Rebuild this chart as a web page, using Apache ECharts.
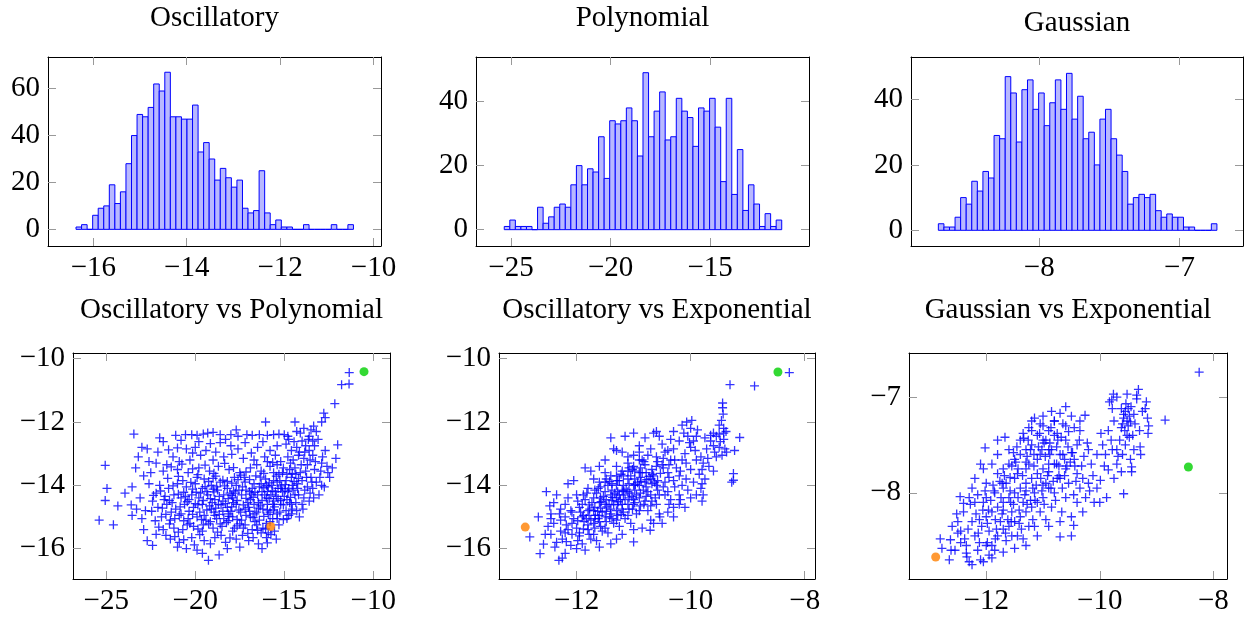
<!DOCTYPE html>
<html>
<head>
<meta charset="utf-8">
<script src="https://cdn.jsdelivr.net/npm/echarts@6/dist/echarts.min.js"></script>
<style>
html, body { margin: 0; padding: 0; background: #fff; }
#chart { width: 1249px; height: 617px; }
</style>
</head>
<body>
<div id="chart"></div>
<script>
// histogram counts, 50 bins each
const oscRange = [-16.37, -10.43];
const oscCounts = [1,2,0,6,9,10,19,11,16,28,40,49,48,52,62,59,67,48,48,47,
  47,53,33,37,30,21,26,22,18,21,9,7,8,25,7,2,4,1,1,0,
  0,2,0,0,0,0,2,0,0,2];
const polyRange = [-25.34, -11.40];
const polyCounts = [1,3,1,1,1,0,7,2,4,7,8,7,14,20,14,19,18,29,16,34,
  33,34,38,34,23,49,29,37,43,28,29,41,37,35,26,38,37,41,32,15,
  41,11,25,6,14,8,1,5,1,3];
const gaussRange = [-8.719, -6.733];
const gaussCounts = [2,1,1,4,10,8,15,12,18,16,29,28,47,42,27,43,46,37,42,32,
  39,46,37,48,34,41,28,30,20,34,37,28,23,18,8,10,11,10,11,6,
  4,5,4,4,1,1,0,0,0,2];

// scatter samples [x, y]
const oscVsPoly = [
  [-11.35,-10.44],[-11.78,-10.82],[-11.36,-10.8],[-12.16,-11.42],[-12.78,-11.72],[-12.7,-11.86],[-12.9,-12.0],[-13.35,-12.13],
  [-13.5,-12.25],[-13.2,-12.3],[-13.6,-12.45],[-13.1,-12.55],[-13.4,-12.6],[-12.0,-12.72],[-12.1,-13.15],[-12.7,-12.9],
  [-12.9,-13.3],[-12.6,-13.4],[-12.95,-13.55],[-12.3,-13.45],
  [-23.45,-12.38],[-22.0,-12.5],[-21.1,-12.42],[-20.55,-12.4],[-20.2,-12.4],[-19.9,-12.42],[-19.55,-12.38],[-19.3,-12.35],
  [-19.0,-12.33],[-18.6,-12.4],[-18.0,-12.4],[-17.7,-12.25],[-17.6,-12.45],[-17.1,-12.4],[-16.8,-12.42],[-16.4,-12.4],
  [-16.05,-12.0],[-15.95,-12.42],[-15.6,-12.4],[-15.3,-12.38],[-15.0,-12.4],[-14.4,-12.0],[-14.3,-12.3],[-13.9,-12.2],
  [-22.7,-12.85],[-22.1,-12.95],[-21.5,-12.88],[-21.0,-12.82],[-20.5,-12.85],[-20.0,-12.8],[-19.4,-12.9],[-18.6,-12.65],
  [-18.0,-12.75],[-17.6,-12.85],[-16.5,-12.8],[-15.8,-12.9],[-22.2,-13.3],[-21.6,-13.35],[-20.9,-13.25],[-20.3,-13.2],
  [-19.7,-13.05],[-19.0,-13.2],[-18.4,-13.1],[-17.3,-13.15],[-16.7,-13.2],[-16.1,-13.1],[-15.5,-13.05],[-15.2,-13.25],
  [-25.4,-15.1],[-25.06,-13.37],[-24.96,-14.1],[-25.06,-14.48],[-24.6,-15.25],[-24.35,-14.65],[-23.95,-14.25],[-23.55,-14.05],
  [-23.6,-14.62],[-23.55,-14.95],[-23.2,-13.1],[-23.35,-13.45],[-23.1,-14.4],[-23.0,-15.05],[-22.8,-14.8],[-22.6,-13.95],
  [-22.4,-14.5],[-22.7,-15.75],[-22.4,-15.9],[-22.5,-13.6],[-22.2,-14.25],
  [-14.9,-12.7],[-14.6,-12.9],[-14.3,-12.8],[-14.0,-12.6],[-13.8,-12.75],[-13.6,-12.9],[-14.8,-13.1],[-14.5,-13.2],
  [-14.2,-13.05],[-13.9,-13.15],[-13.7,-13.35],[-13.4,-13.05],[-14.7,-13.5],[-14.4,-13.45],[-14.1,-13.6],[-13.8,-13.55],
  [-13.5,-13.75],[-13.3,-13.5],[-15.1,-13.6],[-14.9,-13.85],[-14.6,-13.75],[-14.3,-13.95],[-14.0,-13.85],[-13.7,-14.05],
  [-13.4,-14.1],[-13.2,-13.9],[-12.9,-14.0],[-13.0,-13.75],[-15.2,-14.1],[-14.8,-14.2],[-14.5,-14.15],[-14.2,-14.3],
  [-13.9,-14.4],[-13.6,-14.5],[-15.4,-13.35],[-14.1,-12.35],[-13.3,-12.75],[-15.6,-13.6],[-15.4,-13.9],[-13.95,-14.75],
  [-14.15,-15.0],[-14.0,-14.6],
  [-21.8,-13.55],[-21.0,-13.5],[-20.4,-13.6],[-19.8,-13.45],[-19.2,-13.55],[-18.7,-13.4],[-18.1,-13.5],[-17.5,-13.6],
  [-16.9,-13.45],[-16.3,-13.55],[-15.8,-13.4],[-16.6,-13.7],[-17.8,-13.75],[-19.5,-13.8],[-20.7,-13.85],
  [-22.0,-14.0],[-21.5,-14.1],[-21.0,-13.95],[-20.5,-14.05],[-20.0,-13.95],[-19.6,-14.1],[-19.1,-14.0],[-18.6,-13.9],
  [-18.2,-14.1],[-17.7,-14.0],[-17.2,-13.9],[-16.8,-14.1],[-16.3,-13.95],[-15.9,-14.05],[-15.5,-14.2],[-15.0,-14.35],
  [-21.7,-14.35],[-21.2,-14.3],[-20.8,-14.4],[-20.2,-14.3],[-19.8,-14.4],[-19.3,-14.3],[-18.9,-14.45],[-18.4,-14.3],
  [-17.9,-14.4],[-17.4,-14.3],[-16.9,-14.45],[-16.5,-14.3],[-16.0,-14.4],[-15.6,-14.5],[-15.2,-14.6],[-14.7,-14.55],
  [-22.1,-14.7],[-21.6,-14.6],[-21.1,-14.75],[-20.6,-14.6],[-20.1,-14.7],[-19.6,-14.6],[-19.1,-14.75],[-18.7,-14.6],
  [-18.2,-14.7],[-17.7,-14.6],[-17.2,-14.75],[-16.7,-14.6],[-16.2,-14.75],[-15.8,-14.85],[-15.4,-14.9],[-14.9,-14.8],
  [-21.9,-15.0],[-21.4,-15.1],[-20.9,-14.95],[-20.4,-15.05],[-19.9,-15.0],[-19.4,-15.1],[-18.9,-14.95],[-18.4,-15.05],
  [-17.9,-15.0],[-17.4,-15.1],[-16.9,-15.0],[-16.4,-15.1],[-16.0,-15.2],[-15.3,-15.25],[-14.6,-14.9],
  [-21.8,-15.4],[-21.2,-15.35],[-20.7,-15.4],[-20.1,-15.3],[-19.6,-15.45],[-19.0,-15.35],[-18.5,-15.3],[-17.9,-15.45],
  [-17.3,-15.35],[-16.8,-15.4],[-16.3,-15.5],
  [-21.4,-15.7],[-20.9,-15.8],[-20.2,-15.65],[-19.5,-15.75],[-18.9,-15.65],[-18.3,-15.8],[-17.7,-15.7],[-17.0,-15.75],
  [-16.0,-15.65],[-15.45,-15.7],
  [-19.9,-16.05],[-19.6,-16.15],[-19.26,-16.37],[-18.66,-16.2],[-18.2,-16.0],[-17.5,-15.95],[-16.25,-16.0],[-21.0,-15.95],
  [-20.5,-16.0],
  [-19.35,-14.2],[-18.75,-14.15],[-18.05,-14.25],[-17.55,-14.15],[-16.95,-14.2],[-16.25,-14.2],[-15.75,-14.3],[-19.05,-14.55],
  [-18.45,-14.5],[-17.85,-14.55],[-17.05,-14.55],[-16.45,-14.55],[-15.95,-14.6],[-19.75,-14.85],[-18.95,-14.85],[-18.15,-14.9],
  [-17.45,-14.85],[-16.65,-14.9],[-15.65,-14.6],[-20.35,-14.45],[-17.25,-13.75],[-16.05,-13.8],[-15.25,-13.85],[-15.7,-14.0],
  [-21.35,-13.42],[-20.75,-13.33],[-20.15,-13.48],[-19.45,-13.36],[-18.95,-13.62],[-18.35,-13.31],[-17.85,-13.44],[-17.15,-13.58],
  [-16.55,-13.35],[-16.15,-13.62],[-15.65,-13.28],[-15.05,-13.45],[-14.55,-13.62],
  [-21.55,-13.78],[-20.95,-13.72],[-20.25,-13.91],[-19.85,-13.66],[-19.25,-13.88],[-18.85,-13.71],[-18.45,-13.84],[-17.95,-13.93],
  [-17.45,-13.68],[-16.95,-13.82],[-16.35,-13.74],[-15.85,-13.92],[-15.45,-13.71],[-14.95,-13.98],[-14.45,-13.88],
  [-21.95,-14.18],[-21.25,-14.02],[-20.65,-14.22],[-20.15,-14.12],[-19.45,-14.04],[-18.95,-14.21],[-18.35,-14.02],[-17.85,-14.18],
  [-17.35,-14.05],[-16.65,-14.22],[-16.15,-14.08],[-15.65,-14.18],[-15.15,-14.02],[-14.65,-14.38],
  [-22.35,-14.32],[-21.45,-14.48],[-20.95,-14.28],[-20.45,-14.52],[-19.95,-14.22],[-19.55,-14.48],[-19.15,-14.42],[-18.65,-14.35],
  [-18.15,-14.42],[-17.65,-14.48],[-17.15,-14.41],[-16.75,-14.38],[-16.25,-14.48],[-15.85,-14.42],[-15.35,-14.42],[-14.85,-14.45],
  [-22.45,-14.82],[-21.85,-14.72],[-21.35,-14.85],[-20.85,-14.68],[-20.35,-14.82],[-19.85,-14.62],[-19.35,-14.78],[-18.85,-14.72],
  [-18.45,-14.82],[-17.95,-14.68],[-17.55,-14.78],[-16.95,-14.82],[-16.45,-14.72],[-15.95,-14.78],[-15.55,-14.68],[-15.05,-14.62],
  [-22.25,-15.12],[-21.65,-14.92],[-21.15,-15.05],[-20.65,-15.12],[-20.15,-14.92],[-19.65,-15.08],[-19.15,-15.15],[-18.65,-14.92],
  [-18.15,-15.12],[-17.65,-15.08],[-17.15,-14.95],[-16.65,-15.15],[-16.15,-14.98],[-15.65,-15.05],[-15.05,-15.08],
  [-22.05,-15.32],[-21.45,-15.22],[-20.95,-15.48],[-20.45,-15.25],[-19.85,-15.38],[-19.25,-15.22],[-18.75,-15.48],[-18.25,-15.18],
  [-17.65,-15.28],[-17.05,-15.52],[-16.55,-15.25],[-16.05,-15.38],[-15.55,-15.45],[-15.95,-15.82],
  [-21.65,-15.58],[-21.15,-15.62],[-20.65,-15.72],[-20.05,-15.88],[-19.75,-15.56],[-19.15,-15.85],[-18.55,-15.58],[-18.05,-15.66],
  [-17.35,-15.58],[-16.75,-15.65],[-16.45,-15.85],[-15.75,-15.56],
  [-21.8,-12.62],[-20.8,-12.58],[-19.8,-12.62],[-19.15,-12.68],[-18.3,-12.55],[-17.2,-12.65],[-16.2,-12.62],[-15.4,-12.75],
  [-14.8,-12.45],[-20.15,-12.98],[-18.85,-12.95],[-17.95,-13.02],[-16.85,-12.98],[-15.95,-13.25],[-21.25,-13.1],[-22.6,-13.25],
  [-23.0,-12.8],[-22.9,-13.7],[-23.3,-14.75],[-22.9,-15.4],[-22.2,-15.55],
  [-14.75,-12.55],[-14.45,-12.62],[-14.15,-12.95],[-13.85,-12.95],[-13.55,-13.2],[-14.65,-13.3],[-14.35,-13.65],[-14.05,-13.35],
  [-13.75,-13.75],[-13.45,-13.9],[-14.55,-14.0],[-14.25,-14.1],[-13.85,-14.15],[-13.55,-14.25],[-14.35,-14.55],[-14.55,-14.75],
  [-14.85,-15.05],[-15.25,-14.85],[-13.65,-12.55],[-13.25,-13.25],[-12.85,-13.1],[-12.55,-13.6],[-12.75,-14.05],[-12.45,-13.75],
  [-13.05,-14.3],[-13.35,-14.4],
  [-19.7,-14.25],[-19.0,-14.12],[-18.55,-14.62],[-18.0,-14.82],[-17.3,-14.62],[-16.85,-14.28],[-16.35,-14.65],[-15.9,-14.92],
  [-15.45,-14.35],[-15.1,-14.2],[-19.2,-14.65],[-18.3,-14.58],[-17.75,-14.25],[-17.0,-14.7],[-16.55,-14.85],[-16.1,-14.3],
  [-15.6,-14.78],[-15.2,-14.48],[-14.75,-14.1],[-14.4,-14.3],[-20.55,-14.35],[-20.0,-14.58],[-19.5,-14.95],[-18.8,-15.05],
  [-18.1,-14.98],[-17.5,-15.22],[-16.75,-15.02],[-16.2,-15.35],[-15.8,-15.15],[-15.4,-15.05],[-20.8,-14.9],[-21.3,-14.55],
  [-21.75,-14.45],[-20.3,-15.2],[-19.55,-15.25],[-18.6,-15.22],[-17.8,-15.35],[-17.2,-15.25],[-16.5,-15.42],[-15.9,-15.5],
  [-19.9,-13.75],[-19.0,-13.78],[-18.2,-13.88],[-17.6,-13.82],[-16.7,-13.95],[-16.0,-14.0],[-15.6,-13.85],[-15.3,-13.65],
  [-14.85,-13.65],[-14.2,-13.78],[-18.8,-14.05],[-17.95,-14.32],[-17.15,-14.15],[-16.4,-14.05],[-15.95,-14.2],[-15.35,-14.1],
  [-14.95,-14.15],[-14.6,-14.6],[-14.3,-14.8],[-14.75,-14.95]
];

const oscVsExp = [
  [-8.27,-10.44],[-9.31,-10.82],[-8.88,-10.86],[-9.44,-11.4],[-9.44,-11.55],[-9.43,-11.75],[-9.46,-11.95],[-9.5,-12.1],
  [-9.42,-12.2],[-9.14,-12.49],[-9.23,-12.9],[-9.25,-13.63],[-9.25,-13.84],[-9.28,-13.9],
  [-9.6,-12.35],[-9.5,-12.38],[-9.42,-12.35],[-9.38,-12.3],[-9.55,-12.45],[-9.65,-12.6],[-9.6,-12.75],[-9.5,-12.8],
  [-9.4,-12.85],[-9.37,-12.95],[-9.45,-13.05],[-9.55,-13.1],[-9.7,-13.15],[-9.75,-12.5],
  [-9.82,-13.1],[-9.78,-13.3],[-9.8,-13.5],[-9.85,-13.65],[-9.75,-13.8],[-9.8,-13.95],[-9.82,-14.1],[-9.78,-14.3],
  [-9.8,-14.5],[-9.68,-13.4],[-9.6,-13.55],[-9.9,-13.2],[-10.0,-13.5],
  [-10.07,-12.0],[-9.98,-11.95],[-10.0,-12.2],[-10.05,-12.45],[-9.95,-12.6],[-10.0,-12.8],[-10.1,-13.0],[-9.9,-12.45],
  [-10.2,-12.6],[-10.3,-12.3],[-10.35,-12.55],
  [-10.6,-12.3],[-10.5,-12.7],[-10.4,-12.9],[-10.7,-12.85],[-10.6,-13.1],[-10.35,-13.2],[-10.5,-13.35],[-10.25,-13.45],
  [-10.15,-13.2],[-10.8,-12.5],[-10.9,-12.75],[-11.0,-12.35],[-11.15,-12.45],[-11.4,-12.5],[-11.35,-12.85],[-11.2,-12.95],
  [-11.0,-13.05],[-10.85,-13.2],
  [-12.4,-15.2],[-12.45,-15.55],[-12.35,-15.8],[-12.3,-14.9],
  [-12.2,-15.0],[-12.15,-15.4],[-12.25,-15.7],[-12.2,-14.6],[-12.1,-15.9],[-12.0,-16.0],
  [-12.0,-14.3],[-11.95,-14.7],[-12.05,-15.05],[-12.0,-15.35],[-11.95,-15.6],[-11.9,-15.85],
  [-11.8,-14.1],[-11.85,-14.45],[-11.8,-14.8],[-11.75,-15.1],[-11.8,-15.4],[-11.75,-15.7],[-11.7,-13.8],
  [-11.6,-13.9],[-11.65,-14.25],[-11.6,-14.55],[-11.55,-14.85],[-11.6,-15.15],[-11.55,-15.45],[-11.65,-15.75],[-11.5,-13.6],
  [-11.4,-13.7],[-11.45,-14.0],[-11.4,-14.3],[-11.35,-14.6],[-11.4,-14.9],[-11.35,-15.2],[-11.45,-15.5],[-11.3,-13.4],[-11.3,-15.7],
  [-11.2,-13.55],[-11.25,-13.85],[-11.2,-14.15],[-11.15,-14.45],[-11.2,-14.75],[-11.15,-15.05],[-11.25,-15.3],[-11.1,-13.3],
  [-11.0,-13.4],[-11.05,-13.7],[-11.0,-14.0],[-10.95,-14.3],[-11.0,-14.6],[-10.95,-14.9],[-11.05,-15.2],[-10.9,-13.2],
  [-10.8,-13.35],[-10.85,-13.6],[-10.8,-13.9],[-10.75,-14.2],[-10.8,-14.5],[-10.75,-14.8],[-10.7,-15.1],
  [-10.6,-13.4],[-10.65,-13.7],[-10.6,-14.0],[-10.55,-14.3],[-10.6,-14.6],[-10.55,-14.9],
  [-10.4,-13.6],[-10.45,-13.9],[-10.4,-14.2],[-10.35,-14.45],[-10.3,-14.7],[-10.4,-14.85],
  [-10.2,-13.7],[-10.15,-14.0],[-10.2,-14.3],[-10.3,-13.85],
  [-11.9,-14.6],[-11.7,-14.4],[-11.5,-14.2],[-11.3,-14.0],[-11.1,-13.8],[-10.9,-13.6],[-11.9,-15.0],[-11.7,-14.8],
  [-11.5,-14.6],[-11.3,-14.4],[-11.1,-14.2],[-10.9,-14.0],[-10.7,-13.8],[-11.7,-15.2],[-11.5,-15.0],[-11.3,-14.8],
  [-11.1,-14.6],[-10.9,-14.4],[-10.7,-14.3],[-11.5,-13.9],[-11.3,-13.7],[-11.1,-13.55],[-11.0,-14.45],[-11.2,-14.6],
  [-11.4,-14.75],[-11.6,-14.95],[-11.8,-15.25],[-11.25,-14.3],
  [-12.64,-16.16],[-12.31,-16.37],[-12.25,-16.3],[-12.82,-15.63],[-12.67,-15.0],[-12.53,-14.2],[-12.47,-14.65],[-12.58,-15.86],
  [-12.55,-15.55],[-12.5,-15.3],[-12.4,-14.55],[-12.35,-14.3],[-12.15,-13.95],[-12.05,-13.85],[-11.85,-13.45],[-11.75,-13.55],
  [-11.6,-13.4],[-11.3,-12.9],[-11.5,-13.2],[-10.65,-12.35],[-10.55,-12.45],
  [-10.5,-15.2],[-10.2,-14.6],[-10.0,-14.4],[-10.1,-14.7],[-10.3,-15.0],[-11.0,-15.4],[-11.2,-15.55],[-10.85,-15.35],
  [-10.65,-15.2],[-9.95,-13.9],[-10.05,-14.15],[-9.9,-14.3],[-10.71,-15.42],[-11.0,-15.79],[-10.54,-15.0],
  [-12.28,-15.45],[-12.28,-15.1],[-12.18,-15.25],[-12.18,-15.78],[-12.08,-15.2],[-12.08,-15.55],[-12.08,-14.85],
  [-11.98,-15.12],[-11.98,-14.5],[-11.98,-15.75],[-11.88,-14.95],[-11.88,-15.38],[-11.88,-14.3],
  [-11.78,-14.62],[-11.78,-15.55],[-11.78,-14.95],[-11.68,-14.7],[-11.68,-15.05],[-11.68,-15.35],[-11.68,-14.15],
  [-11.58,-14.4],[-11.58,-14.72],[-11.58,-15.3],[-11.58,-14.05],[-11.48,-14.45],[-11.48,-14.82],[-11.48,-15.15],[-11.48,-13.8],
  [-11.38,-14.15],[-11.38,-14.48],[-11.38,-15.05],[-11.38,-13.95],[-11.28,-14.2],[-11.28,-14.62],[-11.28,-14.95],[-11.28,-13.85],
  [-11.18,-14.0],[-11.18,-14.3],[-11.18,-14.85],[-11.18,-13.7],[-11.08,-13.95],[-11.08,-14.4],[-11.08,-14.75],[-11.08,-13.45],
  [-10.98,-13.8],[-10.98,-14.15],[-10.98,-14.55],[-10.98,-13.55],[-10.88,-13.75],[-10.88,-14.25],[-10.88,-14.65],[-10.88,-13.45],
  [-10.78,-13.6],[-10.78,-14.05],[-10.78,-14.35],[-10.68,-13.5],[-10.68,-13.95],[-10.68,-14.5],
  [-10.58,-13.25],[-10.58,-13.85],[-10.58,-14.15],[-10.48,-13.45],[-10.48,-14.05],[-10.48,-13.15],
  [-10.38,-13.35],[-10.38,-13.75],[-10.38,-14.6],[-10.28,-13.2],[-10.28,-14.05],[-10.18,-13.55],[-10.18,-14.45],
  [-10.08,-13.3],[-10.08,-13.8],
  [-10.75,-13.05],[-10.45,-12.95],[-10.9,-12.95],[-11.1,-13.1],[-10.3,-12.85],
  [-10.12,-12.35],[-10.02,-12.65],[-9.92,-12.9],[-10.15,-12.1],[-9.88,-12.25],
  [-12.38,-15.95],[-12.2,-16.15],[-11.85,-16.05],[-11.6,-15.95],[-11.4,-15.85],[-12.45,-15.05],[-12.28,-14.75],[-12.15,-14.4],
  [-12.45,-14.9],[-9.65,-12.42],[-9.48,-12.62],[-9.58,-12.95],[-9.72,-12.85],[-9.42,-12.55],
  [-11.93,-14.85],[-11.83,-15.05],[-11.73,-14.55],[-11.63,-14.82],[-11.53,-14.35],[-11.43,-14.62],[-11.33,-14.25],[-11.23,-14.45],
  [-11.13,-14.12],[-11.03,-14.35],[-10.93,-13.92],[-10.83,-14.15],[-10.73,-13.72],[-10.63,-13.9],[-10.53,-13.62],[-11.87,-15.15],
  [-11.77,-14.75],[-11.67,-14.95],[-11.57,-14.52],[-11.47,-14.68],[-11.37,-14.38],[-11.27,-14.52],[-11.17,-14.18],[-11.07,-14.25],
  [-10.97,-13.98],[-10.87,-13.88],[-10.77,-13.82],[-10.67,-13.65],[-11.62,-15.05],[-11.42,-15.0],[-11.22,-14.92],[-11.02,-14.75],
  [-10.82,-14.6],[-10.62,-14.4],[-10.45,-14.3],[-11.82,-14.25],[-11.62,-14.1],[-11.42,-13.88],[-11.22,-13.65],[-11.02,-13.5],
  [-10.82,-13.25],[-12.1,-14.8],[-12.2,-15.5],[-11.95,-15.5],[-11.7,-15.55],[-11.5,-15.35],[-11.3,-15.1],[-11.1,-14.95],
  [-10.9,-14.8],[-10.7,-14.65]
];

const gaussVsExp = [
  [-8.25,-6.74],[-8.85,-7.24],
  [-9.79,-7.03],[-9.83,-7.05],[-9.76,-6.97],[-9.7,-7.0],[-9.52,-6.97],[-9.54,-7.07],[-9.32,-6.92],[-9.55,-7.15],
  [-9.58,-7.22],[-9.52,-7.25],[-9.5,-7.3],[-9.56,-7.35],[-9.48,-7.2],[-9.6,-7.28],[-9.45,-7.1],[-9.4,-7.18],
  [-9.42,-7.4],[-9.2,-7.12],[-9.16,-7.22],[-9.14,-7.3],[-9.18,-7.05],[-9.35,-7.02],[-9.65,-7.45],[-9.7,-7.55],
  [-9.8,-7.45],[-9.6,-7.6],[-9.55,-7.5],[-9.29,-7.52],[-9.44,-7.73],[-9.44,-7.78],[-9.46,-7.65],[-9.58,-8.01],
  [-9.7,-7.7],[-9.75,-7.85],[-9.9,-7.6],[-9.85,-7.35],[-9.95,-7.5],
  [-12.4,-8.2],[-12.45,-8.4],[-12.35,-8.55],[-12.5,-8.3],[-12.3,-8.05],
  [-12.2,-8.1],[-12.25,-8.3],[-12.2,-8.45],[-12.15,-8.6],[-12.2,-7.85],[-12.25,-7.95],
  [-12.0,-7.9],[-12.05,-8.1],[-12.0,-8.25],[-11.95,-8.4],[-12.0,-8.55],[-12.05,-7.75],[-11.95,-8.65],
  [-11.8,-7.8],[-11.85,-8.0],[-11.8,-8.15],[-11.75,-8.3],[-11.8,-8.45],[-11.85,-8.6],[-11.8,-7.6],
  [-11.6,-7.7],[-11.65,-7.9],[-11.6,-8.05],[-11.55,-8.2],[-11.6,-8.35],[-11.65,-8.5],[-11.6,-7.55],
  [-11.4,-7.6],[-11.45,-7.8],[-11.4,-7.95],[-11.35,-8.1],[-11.4,-8.25],[-11.45,-8.45],[-11.4,-7.45],
  [-11.2,-7.5],[-11.25,-7.7],[-11.2,-7.85],[-11.15,-8.0],[-11.2,-8.15],[-11.25,-8.35],[-11.2,-7.35],
  [-11.0,-7.45],[-11.05,-7.6],[-11.0,-7.75],[-10.95,-7.9],[-11.0,-8.05],[-11.05,-8.2],[-11.0,-7.3],
  [-10.8,-7.4],[-10.85,-7.55],[-10.8,-7.7],[-10.75,-7.85],[-10.8,-8.0],[-10.85,-8.15],[-10.8,-7.25],
  [-10.6,-7.45],[-10.65,-7.6],[-10.6,-7.75],[-10.55,-7.9],[-10.6,-8.05],[-10.6,-7.3],
  [-10.4,-7.5],[-10.45,-7.65],[-10.4,-7.8],[-10.35,-7.95],[-10.4,-8.1],[-10.35,-7.35],
  [-10.2,-7.55],[-10.15,-7.7],[-10.2,-7.9],[-10.25,-8.05],[-10.1,-8.1],
  [-11.7,-8.1],[-11.5,-8.0],[-11.3,-7.9],[-11.1,-7.8],[-10.9,-7.7],[-10.7,-7.6],[-11.7,-7.95],[-11.5,-7.85],
  [-11.3,-7.75],[-11.1,-7.65],[-10.9,-7.55],[-11.9,-8.2],[-11.5,-8.3],[-11.3,-8.2],[-11.1,-8.1],[-10.9,-7.95],
  [-10.7,-7.85],[-11.3,-7.55],[-11.1,-7.4],[-10.9,-7.35],[-11.5,-7.65],[-11.7,-7.75],
  [-12.65,-8.7],[-12.81,-8.48],[-12.78,-8.58],[-12.63,-8.49],[-12.34,-8.67],[-12.35,-8.63],[-12.46,-8.04],[-12.4,-8.11],
  [-12.52,-8.22],[-12.6,-8.35],[-12.55,-8.6],[-12.1,-8.7],[-12.25,-8.75],
  [-11.67,-7.42],[-12.02,-7.53],[-11.34,-7.43],[-11.9,-7.7],[-12.1,-7.7],[-11.8,-7.45],
  [-10.7,-7.17],[-10.8,-7.25],[-10.26,-7.19],[-10.5,-7.2],[-11.0,-7.2],[-10.6,-7.1],[-11.2,-7.25],[-10.35,-7.25],
  [-10.3,-8.2],[-10.0,-8.1],[-10.05,-7.95],[-10.5,-8.25],[-10.7,-8.3],[-10.9,-8.35],[-11.1,-8.45],[-11.3,-8.55],
  [-10.5,-8.45],[-10.7,-8.46],[-10.46,-8.34],[-10.67,-8.2],[-9.99,-7.87],[-9.85,-7.76],
  [-12.32,-8.38],[-12.18,-8.22],[-12.12,-8.52],[-12.28,-8.12],[-12.15,-8.02],[-12.38,-8.48],
  [-12.08,-8.35],[-11.92,-8.08],[-12.02,-7.98],[-11.98,-8.52],[-12.06,-8.18],
  [-11.88,-7.92],[-11.72,-8.22],[-11.82,-8.38],[-11.76,-7.88],[-11.9,-8.55],[-11.74,-8.05],
  [-11.68,-7.82],[-11.52,-8.12],[-11.62,-8.28],[-11.55,-7.72],[-11.58,-7.98],[-11.66,-8.42],
  [-11.48,-7.68],[-11.32,-8.02],[-11.42,-8.18],[-11.36,-7.82],[-11.46,-7.52],[-11.38,-8.38],
  [-11.28,-7.62],[-11.12,-7.92],[-11.22,-8.08],[-11.16,-7.72],[-11.26,-7.45],[-11.18,-8.28],
  [-11.08,-7.52],[-10.92,-7.82],[-11.02,-7.98],[-10.96,-7.62],[-11.06,-7.38],[-10.98,-8.12],
  [-10.88,-7.48],[-10.72,-7.72],[-10.82,-7.88],[-10.76,-7.52],[-10.86,-7.32],[-10.78,-8.08],
  [-10.68,-7.42],[-10.52,-7.68],[-10.62,-7.82],[-10.56,-7.52],[-10.66,-7.95],
  [-10.48,-7.58],[-10.32,-7.72],[-10.42,-7.88],[-10.36,-7.45],[-10.46,-8.02],
  [-10.28,-7.62],[-10.12,-7.82],[-10.22,-7.48],[-10.05,-7.6],[-10.18,-7.98],
  [-11.25,-7.32],[-11.05,-7.28],[-10.95,-7.45],[-10.75,-7.38],[-10.65,-7.28],[-10.55,-7.36],[-10.45,-7.32],[-11.35,-7.38],
  [-11.15,-7.22],[-10.85,-7.15],
  [-12.05,-8.72],[-11.9,-8.68],[-11.7,-8.62],[-11.5,-8.58],[-11.55,-8.45],[-11.35,-8.48],[-11.15,-8.35],[-10.95,-8.28],
  [-12.45,-8.52],[-12.5,-8.42],[-12.62,-8.6],[-12.3,-8.72],
  [-9.92,-7.72],[-9.98,-7.38],[-9.62,-7.78],[-9.68,-7.62],[-9.78,-7.55],[-9.88,-8.05],
  [-9.62,-7.12],[-9.58,-7.18],[-9.5,-7.12],[-9.46,-7.26],[-9.62,-7.32],[-9.52,-7.4],[-9.38,-7.28],[-9.3,-7.35],
  [-9.25,-7.15],[-9.75,-7.25],[-9.78,-7.12],[-9.35,-6.98],[-9.15,-7.38],[-9.28,-7.6],[-9.4,-7.55],[-9.48,-7.42],
  [-12.12,-8.28],[-11.96,-8.18],[-11.84,-8.28],[-11.7,-8.18],[-11.57,-8.1],[-11.44,-8.05],[-11.3,-7.98],[-11.18,-7.95],
  [-11.04,-7.85],[-10.9,-7.78],[-10.76,-7.7],[-10.62,-7.65],[-10.5,-7.58],[-12.0,-8.05],[-11.86,-7.98],[-11.72,-7.9],
  [-11.58,-7.84],[-11.44,-7.75],[-11.3,-7.68],[-11.16,-7.6],[-11.02,-7.55],[-10.88,-7.6],[-10.74,-7.45],[-12.14,-8.42],
  [-11.98,-8.32],[-11.84,-8.48],[-11.7,-8.38],[-11.56,-8.3],[-11.42,-8.32],[-11.28,-8.12],[-11.14,-8.08],[-11.0,-7.92],
  [-10.86,-7.95],[-10.72,-7.82],[-10.58,-7.72],[-10.44,-7.72],[-10.3,-7.85],[-11.52,-7.58],[-11.22,-7.55],[-10.98,-7.48]
];

// highlighted points: [x, y] per scatter panel
const greenPts = [[-10.52, -10.41], [-8.47, -10.42], [-8.44, -7.73]];
const orangePts = [[-15.76, -15.30], [-12.90, -15.32], [-12.89, -8.67]];

const titles = ['Oscillatory', 'Polynomial', 'Gaussian',
  'Oscillatory vs Polynomial', 'Oscillatory vs Exponential', 'Gaussian vs Exponential'];

const xTicks = [[-16, -14, -12, -10], [-25, -20, -15, -10], [-8, -7],
  [-25, -20, -15, -10], [-12, -10, -8], [-12, -10, -8]];
const yTicks = [[0, 20, 40, 60], [0, 20, 40], [0, 20, 40],
  [-16, -14, -12, -10], [-16, -14, -12, -10], [-8, -7]];
const xLims = [[-16.97, -9.84], [-26.76, -10.03], [-8.914, -6.547],
  [-26.87, -9.06], [-13.36, -7.82], [-13.36, -7.76]];
const yLims = [[-7.1, 73.5], [-5.1, 53.9], [-4.8, 53.0],
  [-16.96, -9.82], [-16.96, -9.82], [-8.90, -6.54]];

const boxes = [
  [48, 57, 333, 189], [476, 57, 333, 189], [911, 57, 332, 189],
  [73, 353, 317, 226], [499, 353, 316, 226], [909, 353, 318, 226]
];

const FONT = 'Liberation Serif';
const fmt = v => (v < 0 ? '\u2212' + Math.abs(v) : String(v));

function makeAxis(i, dim, pos) {
  const main = pos === 'bottom' || pos === 'left';
  const ticks = dim === 'x' ? xTicks[i] : yTicks[i];
  const lim = dim === 'x' ? xLims[i] : yLims[i];
  return {
    type: 'value', gridIndex: i, position: pos,
    min: lim[0], max: lim[1],
    axisLine: { show: true, onZero: false, lineStyle: { color: '#000', width: 1 } },
    axisTick: { show: true, inside: true, length: 8, customValues: ticks,
      lineStyle: { color: '#999', width: 1 } },
    axisLabel: { show: main, customValues: ticks, formatter: fmt,
      fontFamily: FONT, fontSize: 29, color: '#000', margin: 8 },
    splitLine: { show: false }
  };
}

function histData(range, counts) {
  const w = (range[1] - range[0]) / counts.length;
  return counts.map((c, k) => [range[0] + k * w, range[0] + (k + 1) * w, c]);
}

function renderBar(params, api) {
  const p0 = api.coord([api.value(0), api.value(2)]);
  const p1 = api.coord([api.value(1), 0]);
  return {
    type: 'rect',
    shape: { x: p0[0], y: p0[1], width: p1[0] - p0[0], height: p1[1] - p0[1] },
    style: { fill: '#b8b8ff', stroke: '#0000ff', lineWidth: 1 }
  };
}

const grid = boxes.map(b => ({ left: b[0], top: b[1], width: b[2], height: b[3] }));
const xAxis = [], yAxis = [];
for (let i = 0; i < 6; i++) {
  xAxis.push(makeAxis(i, 'x', 'bottom'));
  xAxis.push(makeAxis(i, 'x', 'top'));
  yAxis.push(makeAxis(i, 'y', 'left'));
  yAxis.push(makeAxis(i, 'y', 'right'));
}

const title = titles.map((t, i) => ({
  text: t,
  left: boxes[i][0] + boxes[i][2] / 2 - 5,
  top: i < 3 ? (i === 2 ? 4 : -1) : 291,
  textAlign: 'center',
  textStyle: { fontFamily: FONT, fontSize: 29, fontWeight: 'normal', color: '#000' }
}));

const series = [];
[[oscRange, oscCounts], [polyRange, polyCounts], [gaussRange, gaussCounts]].forEach((h, i) => {
  series.push({
    type: 'custom', xAxisIndex: 2 * i, yAxisIndex: 2 * i,
    renderItem: renderBar, encode: { x: [0, 1], y: 2 },
    data: histData(h[0], h[1])
  });
});

const plus = 'path://M0,5L10,5M5,0L5,10';
[oscVsPoly, oscVsExp, gaussVsExp].forEach((pts, k) => {
  const i = k + 3;
  series.push({
    type: 'scatter', xAxisIndex: 2 * i, yAxisIndex: 2 * i,
    symbol: plus, symbolSize: 9,
    itemStyle: { color: 'none', borderColor: '#0000ff', borderWidth: 1.3 },
    data: pts, silent: true, z: 2
  });
  series.push({
    type: 'scatter', xAxisIndex: 2 * i, yAxisIndex: 2 * i,
    symbol: 'circle', symbolSize: 9,
    itemStyle: { color: '#ff8000' },
    data: [orangePts[k]], z: 3
  });
  series.push({
    type: 'scatter', xAxisIndex: 2 * i, yAxisIndex: 2 * i,
    symbol: 'circle', symbolSize: 9,
    itemStyle: { color: '#00d000' },
    data: [greenPts[k]], z: 3
  });
});

const chart = echarts.init(document.getElementById('chart'));
chart.setOption({
  animation: false,
  backgroundColor: '#fff',
  title: title,
  grid: grid,
  xAxis: xAxis,
  yAxis: yAxis,
  series: series
});
</script>
</body>
</html>
